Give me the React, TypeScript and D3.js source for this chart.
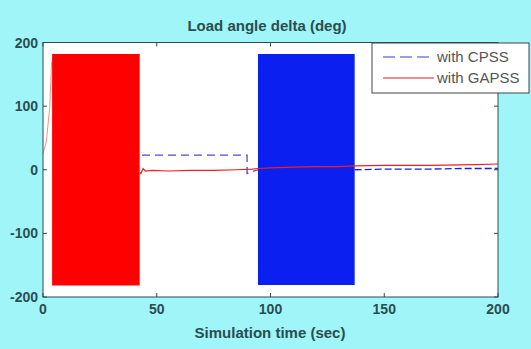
import React from "react";
import * as d3 from "d3";

// ---- data ----
const xTicks = [0, 50, 100, 150, 200];
const yTicks = [-200, -100, 0, 100, 200];
const seriesNames = ["with CPSS", "with GAPSS"];

// GAPSS (red) smooth parts [t, delta]
const gapssLine: [number, number][] = [
  [0, 25], [1.5, 45], [3, 100], [3.8, 170],
  [42.5, -4], [43, -6], [44, 2], [45, -2], [48, -1], [55, -2], [65, -1], [75, -1],
  [85, 0], [92, 1], [95, 2], [100, 3], [110, 4], [120, 5], [130, 5],
  [137, 6], [150, 7], [170, 7], [190, 8], [200, 9],
];
// GAPSS pole-slip band (dense oscillation) [t, low, high]
const gapssBand: [number, number, number][] = [
  [4, -182, 182], [41, -182, 182], [42.5, -182, 182],
];

// CPSS (blue) smooth parts
const cpssLine: [number, number][] = [
  [43.5, 23], [60, 23], [75, 23], [89.7, 23], [89.7, -6], [92, -3], [94.5, 0],
  [137, 0], [150, 1], [170, 1], [185, 2], [200, 2],
];
// CPSS pole-slip band
const cpssBand: [number, number, number][] = [
  [94.5, -181, 182], [137, -181, 182],
];

const W = 531, H = 349;
const L = 43, R = 498, T = 42.5, B = 297;
const ink = "#2b4d52";
const font = "'Liberation Sans', Arial, Helvetica, sans-serif";

export default function App() {
  const x = d3.scaleLinear().domain([0, 200]).range([L, R]);
  const y = d3.scaleLinear().domain([-200, 200]).range([B, T]);
  const line = d3.line<[number, number]>().x(d => x(d[0])).y(d => y(d[1]));
  const area = d3.area<[number, number, number]>()
    .x(d => x(d[0])).y0(d => y(d[1])).y1(d => y(d[2]));

  const gapssPre = gapssLine.filter(d => d[0] < 4);
  const gapssPost = gapssLine.filter(d => d[0] >= 42);
  const cpssPre = cpssLine.filter(d => d[0] <= 94.5);
  const cpssPost = cpssLine.filter(d => d[0] >= 137);

  return (
    <svg width={W} height={H} style={{ position: "absolute", left: 0, top: 0 }} fontFamily={font}>
      <rect x={0} y={0} width={W} height={H} fill="#9ff5f7" />
      <rect x={L} y={T} width={R - L} height={B - T} fill="#ffffff" />
      <defs>
        <clipPath id="plot"><rect x={L} y={T} width={R - L} height={B - T} /></clipPath>
      </defs>
      <g clipPath="url(#plot)">
        <path d={area(cpssBand) || ""} fill="#0a1ff0" />
        <path d={line(cpssPre) || ""} fill="none" stroke="#4a4ad0" strokeWidth={1.3} strokeDasharray="8,5" />
        <path d={line(cpssPost) || ""} fill="none" stroke="#1a22d8" strokeWidth={1.3} strokeDasharray="7,3" />
        <path d={area(gapssBand) || ""} fill="#ff0000" />
        <path d={line(gapssPre) || ""} fill="none" stroke="#e04040" strokeWidth={0.8} opacity={0.7} />
        <path d={line(gapssPost) || ""} fill="none" stroke="#f02020" strokeWidth={1.2} />
      </g>
      {/* box */}
      <rect x={L} y={T} width={R - L} height={B - T} fill="none" stroke={ink} strokeWidth={1} />
      {xTicks.map(t => (
        <g key={"x" + t}>
          <line x1={x(t)} x2={x(t)} y1={B} y2={B - 4} stroke={ink} />
          <line x1={x(t)} x2={x(t)} y1={T} y2={T + 4} stroke={ink} />
          <text x={x(t)} y={B + 17} textAnchor="middle" fontSize={14} fontWeight="bold" fill={ink}>{t}</text>
        </g>
      ))}
      {yTicks.map(t => (
        <g key={"y" + t}>
          <line x1={L} x2={L + 4} y1={y(t)} y2={y(t)} stroke={ink} />
          <line x1={R} x2={R - 4} y1={y(t)} y2={y(t)} stroke={ink} />
          <text x={L - 5} y={y(t) + 5} textAnchor="end" fontSize={14} fontWeight="bold" fill={ink}>{t}</text>
        </g>
      ))}
      <text x={267} y={31} textAnchor="middle" fontSize={15} fontWeight="bold" fill={ink}>Load angle delta (deg)</text>
      <text x={270} y={338} textAnchor="middle" fontSize={15} fontWeight="bold" fill={ink}>Simulation time (sec)</text>
      {/* legend */}
      <rect x={372} y={43} width={157} height={50} fill="#ffffff" stroke="#444" strokeWidth={1} />
      <line x1={383} x2={434} y1={57} y2={57} stroke="#3a3ad8" strokeWidth={1.2} strokeDasharray="12,5" />
      <text x={437} y={62} fontSize={15} fill="#555">{seriesNames[0]}</text>
      <line x1={383} x2={434} y1={78} y2={78} stroke="#e02020" strokeWidth={1.2} />
      <text x={437} y={83} fontSize={15} fill="#555">{seriesNames[1]}</text>
    </svg>
  );
}
